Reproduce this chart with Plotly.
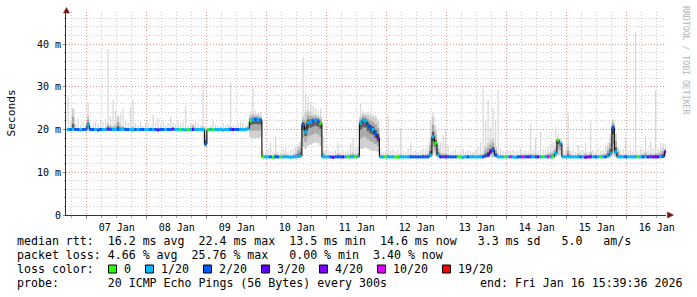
import numpy as np
import pandas as pd
import plotly.graph_objects as go

# ---------------- data (hourly bins, Jan 6 16:00 .. Jan 16 15:00) ----------------
hours = pd.date_range("2026-01-06 16:00", periods=240, freq="h")

median_ms = [
    20.0, 20.0, 20.1, 20.0, 20.0, 19.9, 20.0, 20.0,
    21.0, 20.0, 20.0, 20.0, 19.9, 20.0, 20.0, 20.0, 20.1, 20.0, 20.0, 20.0, 20.0, 20.0, 20.1, 20.0, 20.0, 20.0, 19.9, 20.0, 20.0, 20.0, 20.0, 20.0,
    20.0, 20.0, 20.0, 20.0, 19.9, 20.0, 20.0, 20.0, 20.0, 20.0, 20.1, 20.0, 20.0, 20.0, 20.0, 19.9, 20.0, 20.0, 20.0, 20.0, 20.0, 20.0, 20.0, 16.6,
    20.0, 20.0, 20.0, 20.0, 20.0, 20.0, 19.9, 20.0, 20.0, 20.0, 20.0, 20.0, 20.0, 20.0, 20.0, 20.0, 20.2, 22.0, 22.3, 22.4, 22.3, 22.2, 13.6, 13.6,
    13.6, 13.6, 13.5, 13.6, 13.6, 13.6, 13.6, 13.6, 13.6, 13.5, 13.6, 13.6, 13.7, 13.8, 21.2, 19.5, 21.6, 21.8, 22.0, 22.2, 22.0, 21.5, 13.6, 13.6,
    13.6, 13.6, 13.5, 13.6, 13.6, 13.6, 13.6, 13.6, 13.6, 13.6, 13.6, 13.6, 13.7, 21.5, 22.2, 22.0, 21.0, 20.4, 20.0, 19.0, 18.0, 13.6, 13.6, 13.6,
    13.6, 13.6, 13.6, 13.6, 13.5, 13.6, 13.6, 13.6, 13.6, 13.6, 13.6, 13.6, 13.6, 13.6, 13.6, 13.6, 13.6, 14.0, 18.3, 16.8, 14.0, 13.6, 13.6, 13.6,
    13.6, 13.6, 13.6, 13.6, 13.6, 13.6, 13.5, 13.6, 13.6, 13.6, 13.6, 13.6, 13.6, 13.6, 13.6, 13.8, 14.0, 14.8, 15.2, 14.0, 13.6, 13.6, 13.6, 13.6,
    13.6, 13.6, 13.6, 13.5, 13.6, 13.6, 13.6, 13.6, 13.6, 13.6, 13.6, 13.6, 13.6, 13.6, 13.6, 13.6, 13.6, 13.6, 13.6, 14.4, 17.5, 16.8, 13.6, 13.6,
    13.6, 13.6, 13.6, 13.6, 13.6, 13.6, 13.6, 13.5, 13.6, 13.6, 13.6, 13.6, 13.6, 13.6, 13.6, 13.6, 13.8, 14.5, 20.5, 14.8, 13.6, 13.6, 13.6, 13.6,
    13.6, 13.6, 13.6, 13.6, 13.6, 13.6, 13.6, 13.6, 13.6, 13.6, 13.6, 13.6, 13.6, 13.6, 13.7, 14.8,
]

smoke_lo = [
    19.7, 19.7, 19.8, 19.7, 19.7, 19.6, 19.7, 19.7,
    19.8, 19.7, 19.7, 19.7, 19.6, 19.7, 19.7, 19.7, 19.8, 19.7, 19.7, 19.7, 19.7, 19.7, 19.8, 19.7, 19.7, 19.7, 19.6, 19.7, 19.7, 19.7, 19.7, 19.7,
    19.7, 19.7, 19.7, 19.7, 19.6, 19.7, 19.7, 19.7, 19.7, 19.7, 19.8, 19.7, 19.7, 19.7, 19.7, 19.6, 19.7, 19.7, 19.7, 19.7, 19.7, 19.7, 19.7, 16.0,
    19.7, 19.7, 19.7, 19.7, 19.7, 19.7, 19.6, 19.7, 19.7, 19.7, 19.7, 19.7, 19.7, 19.7, 19.7, 19.7, 19.8, 18.2, 18.0, 18.0, 18.0, 18.2, 13.4, 13.4,
    13.4, 13.4, 13.3, 13.4, 13.4, 13.4, 13.4, 13.4, 13.4, 13.3, 13.4, 13.4, 13.4, 13.5, 16.0, 15.5, 16.2, 16.5, 16.8, 17.0, 16.8, 16.2, 13.4, 13.4,
    13.4, 13.4, 13.3, 13.4, 13.4, 13.4, 13.4, 13.4, 13.4, 13.4, 13.4, 13.4, 13.4, 15.5, 15.5, 15.8, 15.5, 15.2, 15.0, 15.0, 14.8, 13.4, 13.4, 13.4,
    13.4, 13.4, 13.4, 13.4, 13.3, 13.4, 13.4, 13.4, 13.4, 13.4, 13.4, 13.4, 13.4, 13.4, 13.4, 13.4, 13.4, 13.5, 14.5, 14.0, 13.5, 13.4, 13.4, 13.4,
    13.4, 13.4, 13.4, 13.4, 13.4, 13.4, 13.3, 13.4, 13.4, 13.4, 13.4, 13.4, 13.4, 13.4, 13.4, 13.4, 13.5, 13.5, 13.5, 13.5, 13.4, 13.4, 13.4, 13.4,
    13.4, 13.4, 13.4, 13.3, 13.4, 13.4, 13.4, 13.4, 13.4, 13.4, 13.4, 13.4, 13.4, 13.4, 13.4, 13.4, 13.4, 13.4, 13.4, 13.5, 14.0, 14.0, 13.4, 13.4,
    13.4, 13.4, 13.4, 13.4, 13.4, 13.4, 13.4, 13.3, 13.4, 13.4, 13.4, 13.4, 13.4, 13.4, 13.4, 13.4, 13.4, 13.5, 14.0, 13.5, 13.4, 13.4, 13.4, 13.4,
    13.4, 13.4, 13.4, 13.4, 13.4, 13.4, 13.4, 13.4, 13.4, 13.4, 13.4, 13.4, 13.4, 13.4, 13.4, 13.5,
]

smoke_hi = [
    20.4, 20.3, 24.8, 20.3, 20.4, 20.3, 20.3, 20.4,
    23.2, 20.4, 20.3, 20.4, 20.3, 20.4, 20.3, 20.4, 21.5, 21.0, 20.8, 21.3, 23.0, 21.0, 20.8, 20.4, 20.3, 20.4, 20.8, 20.3, 20.3, 20.4, 20.3, 20.3,
    20.3, 20.4, 20.4, 20.3, 20.4, 20.3, 20.3, 20.4, 20.3, 20.4, 20.3, 20.3, 20.4, 20.3, 20.3, 20.4, 20.3, 20.3, 21.2, 20.4, 20.3, 20.3, 20.8, 20.2,
    20.3, 20.4, 20.4, 20.3, 20.3, 20.4, 20.3, 20.3, 20.4, 20.8, 20.3, 20.4, 20.3, 20.4, 20.5, 20.4, 20.8, 23.5, 23.8, 23.5, 23.6, 23.2, 14.2, 14.0,
    13.9, 13.9, 13.9, 14.5, 13.9, 13.9, 14.2, 14.3, 13.9, 13.9, 14.1, 14.6, 16.0, 17.0, 23.0, 24.0, 24.5, 24.0, 23.5, 23.5, 23.2, 23.0, 15.0, 13.9,
    13.9, 13.9, 13.9, 13.9, 14.5, 13.9, 13.9, 13.9, 14.1, 14.4, 14.6, 14.2, 14.5, 23.0, 23.8, 23.6, 23.5, 23.2, 23.0, 22.8, 22.0, 14.2, 13.9, 13.9,
    14.3, 13.9, 13.9, 13.9, 14.1, 14.2, 13.9, 13.9, 13.9, 14.2, 13.9, 13.9, 13.9, 13.9, 14.3, 14.1, 14.5, 18.0, 23.0, 20.0, 16.5, 14.6, 14.5, 14.6,
    14.3, 13.9, 13.9, 13.9, 14.1, 13.9, 13.9, 14.1, 13.9, 13.9, 14.2, 13.9, 13.9, 14.3, 14.5, 16.0, 16.8, 17.5, 18.0, 16.0, 14.5, 13.9, 13.9, 13.9,
    13.9, 14.1, 13.9, 13.9, 13.9, 14.2, 13.9, 14.3, 13.9, 14.5, 14.2, 14.4, 13.9, 14.1, 13.9, 14.2, 14.5, 14.8, 15.0, 16.0, 18.0, 17.2, 14.2, 13.9,
    16.0, 14.2, 13.9, 13.9, 14.5, 13.9, 14.1, 14.6, 13.9, 14.8, 13.9, 14.1, 13.9, 14.2, 14.3, 14.5, 16.0, 18.3, 22.2, 19.0, 15.5, 14.2, 13.9, 14.3,
    13.9, 14.1, 13.9, 14.2, 13.9, 14.1, 14.3, 14.8, 13.9, 14.5, 14.2, 14.6, 14.5, 15.0, 15.7, 15.5,
]

ping_max = [
    27.7, 22.0, 25.0, 21.5, 22.5, 21.0, 21.8, 21.2,
    26.3, 21.0, 21.5, 22.0, 21.3, 22.2, 21.8, 22.5, 38.8, 23.0, 27.0, 24.5, 23.4, 23.5, 25.0, 22.0, 21.5, 25.3, 27.0, 21.5, 21.0, 21.8, 20.8, 21.5,
    21.5, 21.0, 23.4, 21.5, 22.7, 21.2, 21.8, 21.0, 21.5, 23.0, 21.6, 21.2, 22.0, 21.4, 21.8, 25.5, 21.0, 21.5, 21.2, 21.8, 21.5, 21.0, 30.6, 20.5,
    20.5, 21.0, 22.4, 21.2, 21.0, 20.8, 21.5, 21.0, 21.3, 31.2, 21.0, 20.8, 21.6, 21.8, 21.5, 21.0, 21.8, 24.0, 29.8, 24.5, 24.0, 24.2, 15.0, 14.5,
    15.5, 16.8, 14.8, 18.3, 15.0, 14.6, 15.7, 15.7, 14.8, 15.2, 15.5, 16.0, 16.4, 17.5, 37.0, 28.5, 27.7, 26.5, 25.5, 25.0, 24.5, 25.0, 18.3, 15.2,
    15.0, 14.8, 14.6, 15.2, 16.8, 14.8, 15.0, 14.7, 15.3, 16.8, 18.0, 15.5, 16.0, 26.2, 24.5, 24.0, 24.2, 23.8, 23.5, 23.4, 22.5, 15.5, 14.8, 15.0,
    23.2, 15.0, 15.5, 14.8, 15.3, 20.3, 15.0, 14.8, 15.5, 17.0, 14.9, 15.2, 14.8, 15.0, 15.6, 15.6, 16.0, 22.2, 24.0, 21.0, 17.5, 17.1, 18.7, 20.0,
    16.4, 14.8, 15.0, 15.3, 14.7, 15.0, 15.5, 14.8, 15.2, 15.0, 14.8, 15.4, 16.0, 17.0, 29.7, 22.0, 27.0, 20.5, 25.0, 22.0, 29.2, 15.5, 15.0, 14.8,
    15.0, 14.8, 15.2, 14.7, 15.0, 15.5, 14.9, 15.3, 15.0, 21.5, 15.2, 18.0, 15.0, 19.4, 15.4, 15.2, 16.0, 16.5, 17.0, 20.7, 19.0, 18.0, 15.0, 15.2,
    24.2, 15.0, 15.3, 14.8, 16.4, 15.0, 15.2, 16.8, 15.0, 22.0, 15.2, 14.8, 15.5, 15.0, 15.3, 16.0, 17.0, 19.0, 22.5, 19.0, 16.0, 15.2, 15.5, 18.0,
    15.0, 15.2, 14.8, 42.9, 15.0, 15.5, 15.3, 18.5, 15.2, 17.2, 15.5, 29.2, 15.5, 16.8, 16.8, 16.5,
]

loss_20 = [
    1, 2, 1, 2, 2, 1, 2, 2,
    1, 2, 2, 1, 2, 2, 1, 1, 3, 2, 1, 1, 2, 1, 1, 2, 2, 1, 1, 2, 1, 2, 2, 1,
    1, 2, 1, 2, 3, 2, 2, 1, 2, 2, 3, 1, 1, 0, 1, 1, 0, 1, 3, 1, 1, 1, 1, 2,
    0, 1, 0, 1, 1, 1, 1, 1, 1, 2, 3, 2, 2, 1, 1, 1, 1, 0, 1, 2, 1, 2, 0, 1,
    1, 2, 0, 2, 2, 0, 1, 1, 1, 1, 1, 1, 1, 1, 2, 1, 1, 1, 2, 1, 2, 0, 1, 1,
    1, 2, 3, 2, 2, 2, 3, 1, 0, 1, 1, 0, 1, 1, 1, 1, 2, 2, 1, 2, 3, 1, 1, 0,
    1, 1, 1, 0, 0, 1, 1, 1, 1, 2, 2, 2, 2, 2, 2, 2, 2, 1, 1, 0, 1, 3, 2, 3,
    2, 2, 2, 2, 0, 0, 1, 1, 2, 1, 1, 1, 1, 1, 2, 2, 3, 3, 2, 2, 1, 1, 1, 0,
    1, 10, 1, 1, 2, 2, 10, 2, 3, 2, 1, 2, 3, 1, 0, 1, 10, 1, 0, 1, 0, 1, 1, 1,
    1, 1, 1, 1, 1, 2, 1, 3, 4, 3, 1, 2, 1, 0, 1, 2, 1, 1, 2, 1, 1, 1, 1, 2,
    1, 1, 1, 1, 0, 1, 2, 1, 3, 2, 4, 3, 3, 1, 2, 3,
]

loss_levels = [0, 1, 2, 3, 4, 10, 19]
loss_labels = ["0", "1/20", "2/20", "3/20", "4/20", "10/20", "19/20"]
loss_colors = ["#26ff00", "#00b8ff", "#0059ff", "#5e00ff", "#7e00ff", "#dd00ff", "#ff0000"]

day_ticks = pd.date_range("2026-01-07", periods=10, freq="D")
day_labels = [d.strftime("%d %b") for d in day_ticks]
six_hour_ticks = pd.date_range("2026-01-06 18:00", "2026-01-16 12:00", freq="6h")
y_ticks = [0, 10, 20, 30, 40]
y_labels = ["0", "10 m", "20 m", "30 m", "40 m"]

legend_rtt = "median rtt:  16.2 ms avg  22.4 ms max  13.5 ms min  14.6 ms now   3.3 ms sd   5.0   am/s"
legend_loss = "packet loss: 4.66 % avg  25.76 % max   0.00 % min  3.40 % now"
legend_probe = "probe:       20 ICMP Echo Pings (56 Bytes) every 300s"
legend_end = "end: Fri Jan 16 15:39:36 2026"
legend_color_title = "loss color:"
y_title = "Seconds"
watermark = "RRDTOOL / TOBI OETIKER"

for arr in (median_ms, smoke_lo, smoke_hi, ping_max, loss_20):
    assert len(arr) == len(hours), len(arr)

# ---------------- geometry ----------------
FW, FH = 697, 297
L, R, T, B = 66, 31, 12, 82
PW, PH = FW - L - R, FH - T - B
FONT = "DejaVu Sans Mono"
HOUR = 3600 * 1000


def pp(X, Y):
    return (X - L) / PW, (FH - B - Y) / PH


med = np.array(median_ms)
lo = np.array(smoke_lo)
hi = np.array(smoke_hi)
mx = np.array(ping_max)
loss = np.array(loss_20)
col_idx = np.searchsorted(loss_levels, loss, side="right") - 1
med_colors = [loss_colors[k] for k in col_idx]

fig = go.Figure()


def band(base, top, color, width=1.0, offset=0.0):
    fig.add_trace(go.Bar(
        x=hours, base=base, y=top - base, width=width * HOUR, offset=offset * HOUR,
        marker=dict(color=color, line=dict(width=0)), hoverinfo="skip", showlegend=False))


# smoke: outer (max pings) light, then darker towards the median
band(lo, np.maximum(mx, hi), "#d8d8d8", width=0.5, offset=0.25)
band(lo, hi, "#cdcdcd")
band(med - 0.6 * (med - lo), med + 0.6 * (hi - med), "#a8a8a8")
band(med - 0.25 * (med - lo), med + 0.25 * (hi - med), "#5a5a5a")

# black transitions between consecutive medians
prev = np.r_[med[0], med[:-1]]
band(np.minimum(prev, med), np.maximum(prev, med), "#111111", width=0.45, offset=-0.2)

# median coloured by packet loss
fig.add_trace(go.Bar(
    x=hours, base=med - 0.36, y=np.full(len(med), 0.72), width=HOUR, offset=0,
    marker=dict(color=med_colors, line=dict(width=0)), hoverinfo="skip", showlegend=False))

MAJOR = "rgba(255,0,0,0.26)"
MINOR = "rgba(128,128,128,0.38)"
DASH = "1px,2px"

fig.update_layout(
    width=FW, height=FH, margin=dict(l=L, r=R, t=T, b=B),
    paper_bgcolor="white", plot_bgcolor="white", barmode="overlay",
    showlegend=False, hovermode=False,
    font=dict(family=FONT, size=10, color="black"),
)
fig.update_xaxes(
    type="date", range=["2026-01-06 15:40", "2026-01-16 15:40"],
    tickmode="array", tickvals=day_ticks, ticktext=day_labels, ticklabelshift=30,
    showgrid=True, gridcolor=MAJOR, griddash=DASH, gridwidth=1,
    ticks="outside", ticklen=3, tickcolor="#888",
    showline=True, linecolor="#333", linewidth=1, zeroline=False,
    tickfont=dict(family=FONT, size=10, color="black"),
    minor=dict(tickmode="array", tickvals=six_hour_ticks, showgrid=True,
               gridcolor=MINOR, griddash=DASH, ticks="outside", ticklen=2, tickcolor="#aaa"),
    fixedrange=True,
)
fig.update_yaxes(
    range=[0, 47.5], tickmode="array", tickvals=y_ticks, ticktext=y_labels,
    showgrid=True, gridcolor=MAJOR, griddash=DASH, gridwidth=1,
    ticks="outside", ticklen=2, tickcolor="#888",
    showline=True, linecolor="#333", linewidth=1, zeroline=False,
    tickfont=dict(family=FONT, size=10, color="black"),
    minor=dict(tickmode="linear", tick0=0, dtick=2, showgrid=True,
               gridcolor=MINOR, griddash=DASH, ticks="outside", ticklen=1, tickcolor="#aaa"),
    fixedrange=True,
)

ann = []
shapes = []


def text(X, Y, s, size=11.6, anchor="left", color="black", angle=0):
    x, y = pp(X, Y)
    ann.append(dict(x=x, y=y, xref="paper", yref="paper", text=s, showarrow=False,
                    xanchor=anchor, yanchor="middle", borderpad=0, textangle=angle,
                    font=dict(family=FONT, size=size, color=color)))


text(11, 113.5, y_title, size=11.2, anchor="center", angle=-90)
text(686, 60, watermark, size=8.2, anchor="center", color="#b4b4b4", angle=90)

LEG_X = 15.5
text(LEG_X, 241, legend_rtt.replace(" ", "&nbsp;"))
text(LEG_X, 255, legend_loss.replace(" ", "&nbsp;"))
text(LEG_X, 269, legend_color_title)
text(LEG_X, 283, legend_probe.replace(" ", "&nbsp;"))
text(683.5, 283, legend_end.replace(" ", "&nbsp;"), anchor="right")

CH = 7.0
bx = 108.5
for lab, col in zip(loss_labels, loss_colors):
    x0, y0 = pp(bx, 273)
    x1, y1 = pp(bx + 8, 265)
    shapes.append(dict(type="rect", xref="paper", yref="paper", x0=x0, x1=x1, y0=y0, y1=y1,
                       fillcolor=col, line=dict(color="black", width=1)))
    text(bx + 14.5, 269, lab)
    bx = bx + 14.5 + len(lab) * CH + 15.5

# axis arrows
ax, ay = pp(63.5, 13)
bx_, by_ = pp(69.5, 13)
cx, cy = pp(66.5, 7.5)
shapes.append(dict(type="path", xref="paper", yref="paper",
                   path=f"M {ax} {ay} L {bx_} {by_} L {cx} {cy} Z",
                   fillcolor="#7a1414", line=dict(color="#7a1414", width=0.5)))
ax, ay = pp(667.5, 212)
bx_, by_ = pp(667.5, 218)
cx, cy = pp(673.5, 215)
shapes.append(dict(type="path", xref="paper", yref="paper",
                   path=f"M {ax} {ay} L {bx_} {by_} L {cx} {cy} Z",
                   fillcolor="#7a1414", line=dict(color="#7a1414", width=0.5)))

fig.update_layout(annotations=ann, shapes=shapes)
fig.write_html("out.html", config={"displayModeBar": False, "staticPlot": True})
